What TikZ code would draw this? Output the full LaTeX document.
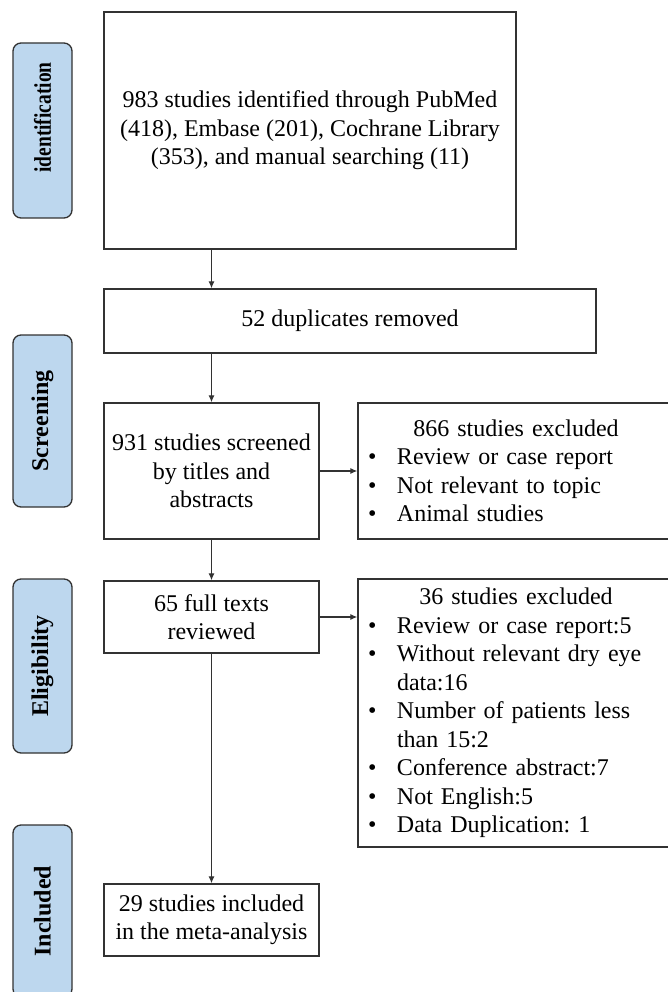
\documentclass[tikz,border=0pt]{standalone}
\usepackage{fontspec}
\setmainfont{Liberation Serif}
\usepackage{graphicx}
\usetikzlibrary{arrows.meta}

\definecolor{stagefill}{RGB}{189,215,238}
\definecolor{linegray}{RGB}{50,50,50}

\newcommand{\bul}{\makebox[35pt][l]{\hspace{6pt}\textbullet}}
\newcommand{\ind}{\hspace*{35pt}}

\tikzset{
  box/.style={draw=linegray, line width=1.3pt, align=center, inner sep=4pt,
    font=\fontsize{24}{28.5}\selectfont\frenchspacing},
  listbox/.style={box, align=left, text width=308pt},
  stage/.style={draw=linegray, fill=stagefill, line width=1.3pt, rounded corners=8pt,
    rotate=90, minimum height=59pt, inner sep=0pt,
    font=\fontsize{24}{28.5}\selectfont\bfseries},
  flow/.style={-{Latex[length=7pt,width=6pt]}, draw=linegray, line width=1.2pt},
}

\begin{document}
\begin{tikzpicture}[x=1pt, y=-1pt]

  \useasboundingbox (0,0) rectangle (668,992);
  \clip (0,0) rectangle (668,992);

  % --- stages ---
  \node[stage, minimum width=175pt] (sident) at (42.5,130.5)
    {\hspace*{26pt}\scalebox{0.81}[1]{identification}};
  \node[stage, minimum width=172pt] (sscreen) at (42.5,421) {Screening};
  \node[stage, minimum width=174pt] (selig) at (42.5,666) {Eligibility};
  \node[stage, minimum width=172pt] (sincl) at (42.5,911) {Included};

  % --- identification ---
  \node[box, minimum width=412pt, minimum height=237pt] (search) at (310,130.5)
    {983 studies identified through PubMed\\(418), Embase (201), Cochrane Library\\(353), and manual searching (11)};
  \node[box, minimum width=492pt, minimum height=64pt] (dup) at (350,321)
    {52 duplicates removed};

  % --- screening ---
  \node[box, minimum width=215pt, minimum height=136pt] (screen) at (211.5,471)
    {931 studies screened\\by titles and\\abstracts};
  \node[listbox, minimum height=136pt] (excl1) at (516,471)
    {\makebox[\hsize]{866 studies excluded}\\
     \bul Review or case report\\
     \bul Not relevant to topic\\
     \bul Animal studies};

  % --- eligibility ---
  \node[box, minimum width=215pt, minimum height=72pt] (full) at (211.5,617)
    {65 full texts\\reviewed};
  \node[listbox, minimum height=268pt] (excl2) at (516,713)
    {\makebox[\hsize]{36 studies excluded}\\
     \bul Review or case report:5\\
     \bul Without relevant dry eye\\
     \ind data:16\\
     \bul Number of patients less\\
     \ind than 15:2\\
     \bul Conference abstract:7\\
     \bul Not English:5\\
     \bul Data Duplication: 1};

  % --- included ---
  \node[box, minimum width=215pt, minimum height=72pt] (incl) at (211.5,920)
    {29 studies included\\in the meta-analysis};

  % --- frecce ---
  \draw[flow] (search.south -| screen.center) -- (dup.north -| screen.center);
  \draw[flow] (dup.south -| screen.center) -- (screen.north);
  \draw[flow] (screen) -- (full);
  \draw[flow] (full) -- (incl);
  \draw[flow] (screen.east) -- (screen.east -| excl1.west);
  \draw[flow] (full.east) -- (full.east -| excl2.west);

\end{tikzpicture}
\end{document}
